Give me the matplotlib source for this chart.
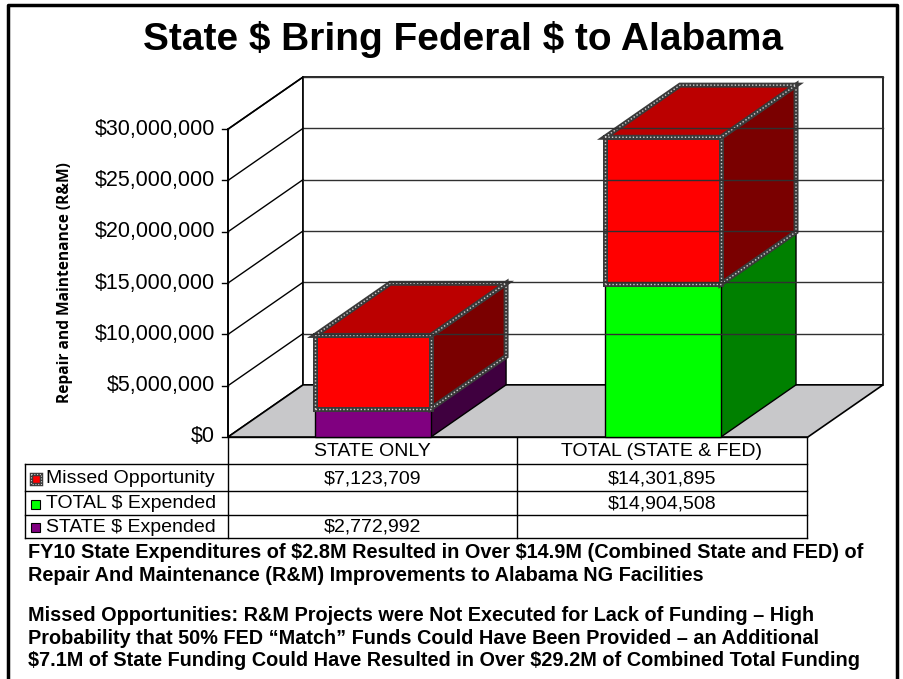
import matplotlib
matplotlib.use("Agg")
import matplotlib.pyplot as plt
from matplotlib.patches import Polygon, Rectangle
import numpy as np

# data
categories = ["STATE ONLY", "TOTAL (STATE & FED)"]
state_expended = [2772992, 0]
total_expended = [0, 14904508]
missed_opportunity = [7123709, 14301895]
y_ticks = [0, 5000000, 10000000, 15000000, 20000000, 25000000, 30000000]

title = "State $ Bring Federal $ to Alabama"
y_label = "Repair and Maintenance (R&M)"
notes_1 = ("FY10 State Expenditures of $2.8M Resulted in Over $14.9M (Combined State and FED) of\n"
           "Repair And Maintenance (R&M) Improvements to Alabama NG Facilities")
notes_2 = ("Missed Opportunities: R&M Projects were Not Executed for Lack of Funding \u2013 High\n"
           "Probability that 50% FED \u201cMatch\u201d Funds Could Have Been Provided \u2013 an Additional\n"
           "$7.1M of State Funding Could Have Resulted in Over $29.2M of Combined Total Funding")

W, H = 904, 679
FONT = "Liberation Sans"

fig = plt.figure(figsize=(W / 100, H / 100), dpi=100)
bg = fig.add_axes([0, 0, 1, 1])
bg.set_xlim(0, W)
bg.set_ylim(H, 0)
bg.axis("off")

# chart area in pixels: front left 228, back right 883, floor 437, top of wall 77
px_left, px_right, px_bottom, px_top = 228, 883, 437, 77
ax = fig.add_axes([px_left / W, 1 - px_bottom / H, (px_right - px_left) / W, (px_bottom - px_top) / H])
ax.axis("off")

n = len(categories)
ymax = y_ticks[-1]
dx = 0.259          # depth offset in category units
dy = 5.08e6         # depth offset in dollars
ax.set_xlim(0, n + dx)
ax.set_ylim(0, ymax + dy)

# walls and floor
ax.add_patch(Polygon([(0, 0), (dx, dy), (dx, ymax + dy), (0, ymax)], closed=True,
                     facecolor="white", edgecolor="black", lw=1.2, clip_on=False))
ax.add_patch(Rectangle((dx, dy), n, ymax, facecolor="white", edgecolor="black", lw=1.2, clip_on=False))
for v in y_ticks[1:]:
    ax.plot([dx, n + dx], [v + dy, v + dy], color="#303030", lw=1.0, clip_on=False)
    ax.plot([0, dx], [v, v + dy], color="black", lw=1.0, clip_on=False)
ax.add_patch(Polygon([(0, 0), (n, 0), (n + dx, dy), (dx, dy)], closed=True,
                     facecolor="#C8C8CA", edgecolor="black", lw=1.2, clip_on=False))

# y axis
ax.plot([0, 0], [0, ymax], color="black", lw=1.2, clip_on=False)
for v in y_ticks:
    ax.plot([-0.02, 0], [v, v], color="black", lw=1.0, clip_on=False)
    ax.text(-0.045, v, f"${v:,.0f}", ha="right", va="center", fontsize=15.5,
            family=FONT, clip_on=False, parse_math=False)


def draw_block(x0, x1, b, t, front, side, top, pattern=False, show_top=True):
    faces = [
        ([(x1, b), (x1 + dx, b + dy), (x1 + dx, t + dy), (x1, t)], side),
        ([(x0, b), (x1, b), (x1, t), (x0, t)], front),
    ]
    if show_top:
        faces.append(([(x0, t), (x1, t), (x1 + dx, t + dy), (x0 + dx, t + dy)], top))
    for pts, col in faces:
        if pattern:
            ax.add_patch(Polygon(pts, closed=True, facecolor=col, edgecolor="#3a3a3a",
                                 lw=3.6, joinstyle="miter", clip_on=False))
            ax.add_patch(Polygon(pts, closed=True, fill=False, edgecolor="#d0d0d0",
                                 lw=1.0, ls=(0, (1, 1.5)), clip_on=False))
        else:
            ax.add_patch(Polygon(pts, closed=True, facecolor=col, edgecolor="black",
                                 lw=1.0, clip_on=False))


half_w = 0.2
for i in range(n):
    c = i + 0.5
    x0, x1 = c - half_w, c + half_w
    base = 0
    if state_expended[i] > 0:
        draw_block(x0, x1, base, base + state_expended[i], "#800080", "#3F003F", "#600060",
                   show_top=False)
        base += state_expended[i]
    if total_expended[i] > 0:
        draw_block(x0, x1, base, base + total_expended[i], "#00FF00", "#008000", "#00C000",
                   show_top=False)
        base += total_expended[i]
    draw_block(x0, x1, base, base + missed_opportunity[i], "#FF0000", "#7A0000", "#BB0000",
               pattern=True)

# data table below the chart
col_x = [25, 228, 517, 807]
row_y = [437, 464, 491, 515, 538]
lk = dict(color="black", lw=1.0)
bg.plot([col_x[1], col_x[3]], [row_y[0], row_y[0]], **lk)
for yy in row_y[1:]:
    bg.plot([col_x[0], col_x[3]], [yy, yy], **lk)
bg.plot([col_x[0], col_x[0]], [row_y[1], row_y[4]], **lk)
for xx in col_x[1:]:
    bg.plot([xx, xx], [row_y[0], row_y[4]], **lk)

for j, cat in enumerate(categories):
    bg.text((col_x[j + 1] + col_x[j + 2]) / 2, (row_y[0] + row_y[1]) / 2 + 1, cat,
            ha="center", va="center", fontsize=14, family=FONT, parse_math=False)

rows = [
    ("Missed Opportunity", missed_opportunity, "#FF0000", True),
    ("TOTAL $ Expended", total_expended, "#00FF00", False),
    ("STATE $ Expended", state_expended, "#800080", False),
]
for r, (label, vals, col, pat) in enumerate(rows):
    ym = (row_y[r + 1] + row_y[r + 2]) / 2 + 1
    if pat:
        bg.add_patch(Rectangle((31, ym - 5), 10, 10, facecolor=col, edgecolor="#3a3a3a", lw=2.5))
        bg.add_patch(Rectangle((31, ym - 5), 10, 10, fill=False, edgecolor="#d0d0d0",
                               lw=0.8, ls=(0, (1, 1.5))))
    else:
        bg.add_patch(Rectangle((31, ym - 4.5), 9, 9, facecolor=col, edgecolor="black", lw=0.8))
    bg.text(46, ym, label, ha="left", va="center", fontsize=14, family=FONT, parse_math=False)
    for j, v in enumerate(vals):
        if v > 0:
            bg.text((col_x[j + 1] + col_x[j + 2]) / 2, ym, f"${v:,.0f}",
                    ha="center", va="center", fontsize=14, family=FONT, parse_math=False)

# titles and notes
bg.text(463, 40, title, ha="center", va="center", fontsize=28, fontweight="bold",
        family=FONT, parse_math=False)
bg.text(65, 283, y_label, ha="center", va="center", rotation=90, fontsize=11.2,
        fontweight="bold", family="Open Sans")
bg.text(28, 543, notes_1, ha="left", va="top", fontsize=14.3, fontweight="bold",
        family=FONT, linespacing=1.25, parse_math=False)
bg.text(28, 606, notes_2, ha="left", va="top", fontsize=14.3, fontweight="bold",
        family=FONT, linespacing=1.25, parse_math=False)

# slide frame
bg.plot([8, 8, 897, 897], [H + 5, 5, 5, H + 5], color="black", lw=2.5)

fig.savefig("out.png", dpi=100)
